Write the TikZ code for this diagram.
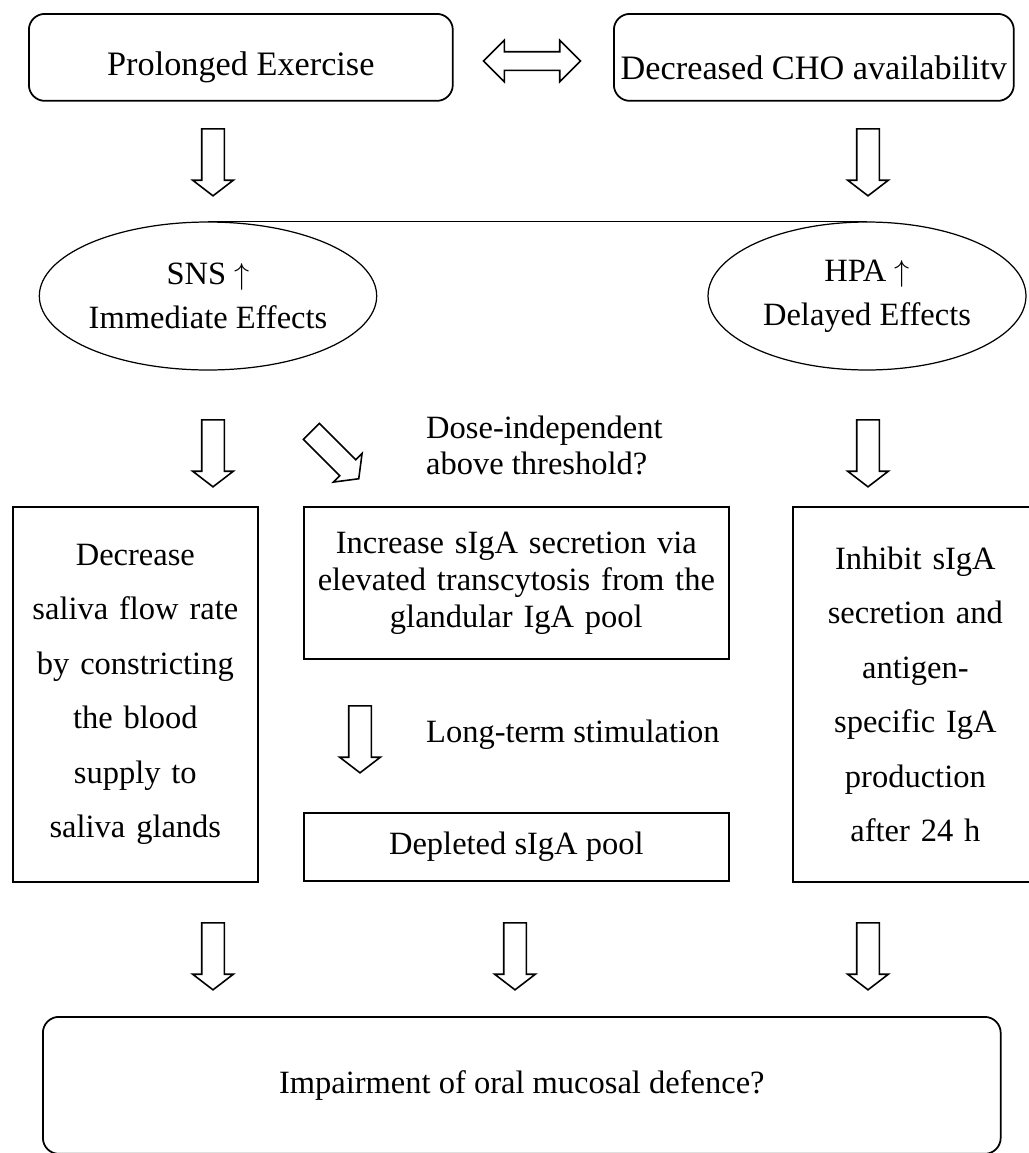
\documentclass[tikz,border=0pt]{standalone}
\usepackage{fontspec}
\setmainfont{Liberation Serif}
\usetikzlibrary{shapes.geometric,shapes.arrows,positioning}

\begin{document}
\begin{tikzpicture}[
  x=0.02cm, y=-0.02cm,
  font=\fontsize{18.5}{22}\selectfont,
  rbox/.style 2 args={
    draw, line width=1pt, rounded corners=0.32cm,
    minimum width=#1, minimum height=#2,
    align=center, inner sep=2pt, anchor=north west
  },
  sbox/.style 2 args={
    draw, line width=1pt,
    minimum width=#1, minimum height=#2,
    align=center, inner sep=2pt, anchor=north west
  },
  oval/.style={
    draw, ellipse, line width=0.7pt,
    minimum height=2.96cm, align=center, inner sep=0pt
  },
  barrow/.style={
    single arrow, draw, line width=0.9pt, fill=white,
    minimum height=1.34cm, inner sep=0.21cm,
    single arrow head extend=0.18cm, single arrow tip angle=105,
    shape border rotate=270
  }
]
\useasboundingbox (0,0) rectangle (1028,1153);
\def\yA{13} \def\yB{158} \def\yC{296} \def\yD{449} \def\yE{506} \def\yF{952} \def\yG{1016}

% top row
\node[rbox={8.48cm}{1.74cm}, font=\fontsize{19.5}{22}\selectfont] (pe) at (28,\yA)
  {\raisebox{-0.2cm}[\height][\depth]{Prolonged Exercise}};
\node[rbox={8.0cm}{1.74cm}, font=\fontsize{19.5}{22}\selectfont] (cho) at (613,\yA)
  {\raisebox{-0.2cm}[\height][\depth]{Decreased CHO availabilitv}};
\node[double arrow, draw, line width=0.9pt, minimum height=1.94cm, inner sep=0.17cm,
  double arrow head extend=0.23cm] (both) at (532,61) {};

\node[barrow] (a1) at (213,\yB) {};
\node[barrow] (a2) at (868,\yB) {};

% nervous system / hormonal axis
\node[oval, minimum width=6.48cm] (sns) at (208,\yC) {SNS $\uparrow$\\[3pt] Immediate Effects};
\node[oval, minimum width=6.36cm] (hpa) at (867,\yC) {HPA $\uparrow$\\[3pt] Delayed Effects};
\draw[line width=1pt] (sns.north) -- (hpa.north);

\node[barrow] (a3) at (213,\yD) {};
\node[barrow, rotate=45] (a4) at (332,452) {};
\node[barrow] (a5) at (868,\yD) {};
\node[anchor=west, align=left, font=\fontsize{18.5}{20.5}\selectfont] (dose) at (420,445) {Dose-independent\\above threshold?};

% effects
\node[sbox={4.9cm}{7.5cm}, text width=4.7cm, font=\fontsize{18.5}{31}\selectfont] (flow) at (12,\yE)
  {Decrease\\saliva flow rate\\by constricting\\the blood\\supply to\\saliva glands};
\node[sbox={8.5cm}{3.04cm}, text width=8.3cm, font=\fontsize{18.5}{21}\selectfont] (incr) at (303,\yE)
  {Increase sIgA secretion via\\elevated transcytosis from the\\glandular IgA pool};
\node[sbox={4.9cm}{7.5cm}, text width=4.6cm, font=\fontsize{18.5}{31}\selectfont] (inhib) at (792,\yE)
  {Inhibit sIgA\\secretion and\\antigen-\\specific IgA\\production\\after 24 h};

\node[barrow] (a6) at (360,735) {};
\node[anchor=west] (long) at (420,735) {Long-term stimulation};
\node[sbox={8.5cm}{1.36cm}] (depl) at (303,812) {Depleted sIgA pool};

\node[barrow] (a7) at (213,\yF) {};
\node[barrow] (a8) at (515,\yF) {};
\node[barrow] (a9) at (868,\yF) {};

% outcome
\node[rbox={19.16cm}{2.74cm}] (out) at (42,\yG) {Impairment of oral mucosal defence?};
\end{tikzpicture}
\end{document}
